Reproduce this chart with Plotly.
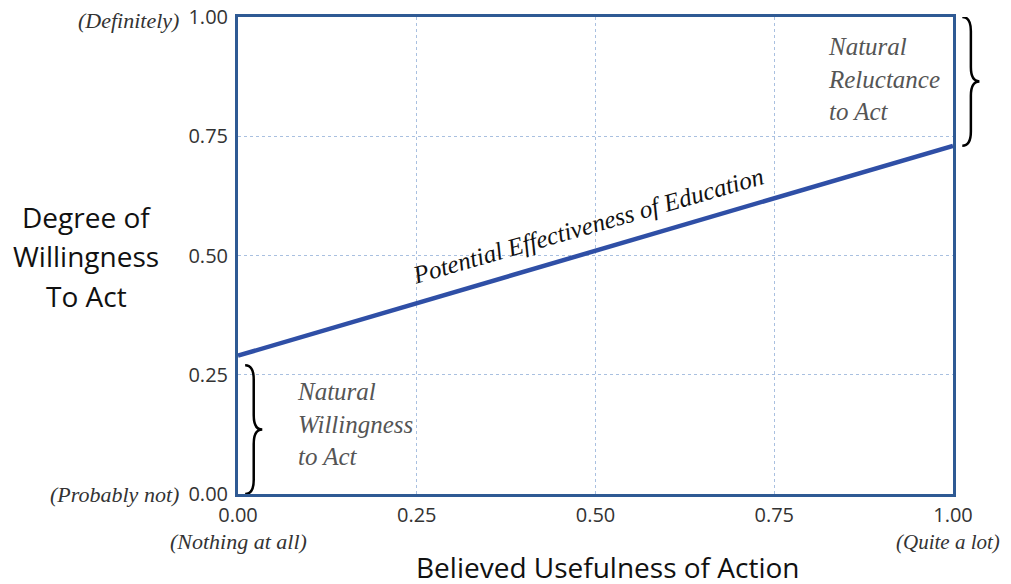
import plotly.graph_objects as go

# Data
usefulness = [0.0, 1.0]
willingness = [0.29, 0.73]
tick_vals = [0.0, 0.25, 0.5, 0.75, 1.0]
tick_text = ["0.00", "0.25", "0.50", "0.75", "1.00"]
y_low_label = "(Probably not)"
y_high_label = "(Definitely)"
x_low_label = "(Nothing at all)"
x_high_label = "(Quite a lot)"
line_label = "Potential Effectiveness of Education"
low_region_label = "Natural<br>Willingness<br>to Act"
high_region_label = "Natural<br>Reluctance<br>to Act"
y_title_lines = ["Degree of", "Willingness", "To Act"]
x_title = "Believed Usefulness of Action"

SERIF = "Liberation Serif, DejaVu Serif, serif"
SANS = "Open Sans, Liberation Sans, sans-serif"
FRAME = "#2f5a94"
LINE = "#2f4fa6"

fig = go.Figure()
fig.add_trace(go.Scatter(x=usefulness, y=willingness, mode="lines",
                         line=dict(color=LINE, width=4.5), hoverinfo="skip",
                         showlegend=False))


def brace(x0, w, y0, y1, d):
    """Right-pointing curly brace; x in paper units, y in data units."""
    xm = x0 + w / 2
    ym = (y0 + y1) / 2
    return (f"M {x0},{y0} Q {xm},{y0} {xm},{y0 + d} L {xm},{ym - d} "
            f"Q {xm},{ym} {x0 + w},{ym} Q {xm},{ym} {xm},{ym + d} "
            f"L {xm},{y1 - d} Q {xm},{y1} {x0},{y1}")


shapes = [
    dict(type="path", xref="paper", yref="y",
         path=brace(0.01, 0.024, 0.0, willingness[0] - 0.02, 0.03),
         line=dict(color="black", width=2.5)),
    dict(type="path", xref="paper", yref="y",
         path=brace(1.013, 0.024, willingness[1], 1.0, 0.03),
         line=dict(color="black", width=2.5)),
]

ann = []
# line label
ann.append(dict(x=0.49, y=0.562, xref="x", yref="y", text=f"<i>{line_label}</i>",
                showarrow=False, textangle=-16, xanchor="center", yanchor="middle",
                font=dict(family=SERIF, size=25, color="#111")))
ann.append(dict(x=0.08, y=0.147, xref="x", yref="y", text=f"<i>{low_region_label}</i>",
                showarrow=False, xanchor="left", yanchor="middle", align="left",
                font=dict(family=SERIF, size=25, color="#555")))
ann.append(dict(x=0.822, y=0.87, xref="x", yref="y", text=f"<i>{high_region_label}</i>",
                showarrow=False, xanchor="left", yanchor="middle", align="left",
                font=dict(family=SERIF, size=25, color="#555")))
# axis extreme labels
ann.append(dict(x=-0.08, y=1.0, xref="paper", yref="y", text=f"<i>{y_high_label}</i>",
                showarrow=False, xanchor="right", yanchor="middle", yshift=-3,
                font=dict(family=SERIF, size=22, color="#333")))
ann.append(dict(x=-0.08, y=0.0, xref="paper", yref="y", text=f"<i>{y_low_label}</i>",
                showarrow=False, xanchor="right", yanchor="middle",
                font=dict(family=SERIF, size=22, color="#333")))
ann.append(dict(x=0.0, y=-0.1, xref="x", yref="paper", text=f"<i>{x_low_label}</i>",
                showarrow=False, xanchor="center", yanchor="middle",
                font=dict(family=SERIF, size=22, color="#333")))
ann.append(dict(x=1.0, y=-0.1, xref="x", yref="paper", text=f"<i>{x_high_label}</i>",
                showarrow=False, xanchor="center", yanchor="middle", xshift=-5,
                font=dict(family=SERIF, size=21, color="#333")))
# axis titles
for i, line in enumerate(y_title_lines):
    ann.append(dict(x=-0.212, y=0.58 - i * 0.082, xref="paper", yref="paper",
                    text=line, showarrow=False, xanchor="center", yanchor="middle",
                    font=dict(family=SANS, size=28, color="#111")))
ann.append(dict(x=0.518, y=-0.153, xref="paper", yref="paper",
                text=x_title, showarrow=False, xanchor="center", yanchor="middle",
                font=dict(family=SANS, size=28, color="#111")))

axis_common = dict(range=[0, 1], tickvals=tick_vals, ticktext=tick_text,
                   showline=True, mirror=True, linecolor=FRAME, linewidth=3,
                   showgrid=True, gridcolor="#a9c0e0", griddash="dot", gridwidth=1,
                   zeroline=False, ticks="", fixedrange=True, automargin=False,
                   ticklabeloverflow="allow",
                   tickfont=dict(family=SANS, size=20, color="#333"))

fig.update_layout(
    width=1011, height=584,
    margin=dict(l=230, r=66, t=9, b=98),
    paper_bgcolor="white", plot_bgcolor="white",
    xaxis=dict(**axis_common),
    yaxis=dict(**axis_common),
    shapes=shapes, annotations=ann, showlegend=False,
)
fig.update_xaxes(ticklabelstandoff=1)
fig.update_yaxes(ticklabelstandoff=3)

fig.write_html("out.html")
